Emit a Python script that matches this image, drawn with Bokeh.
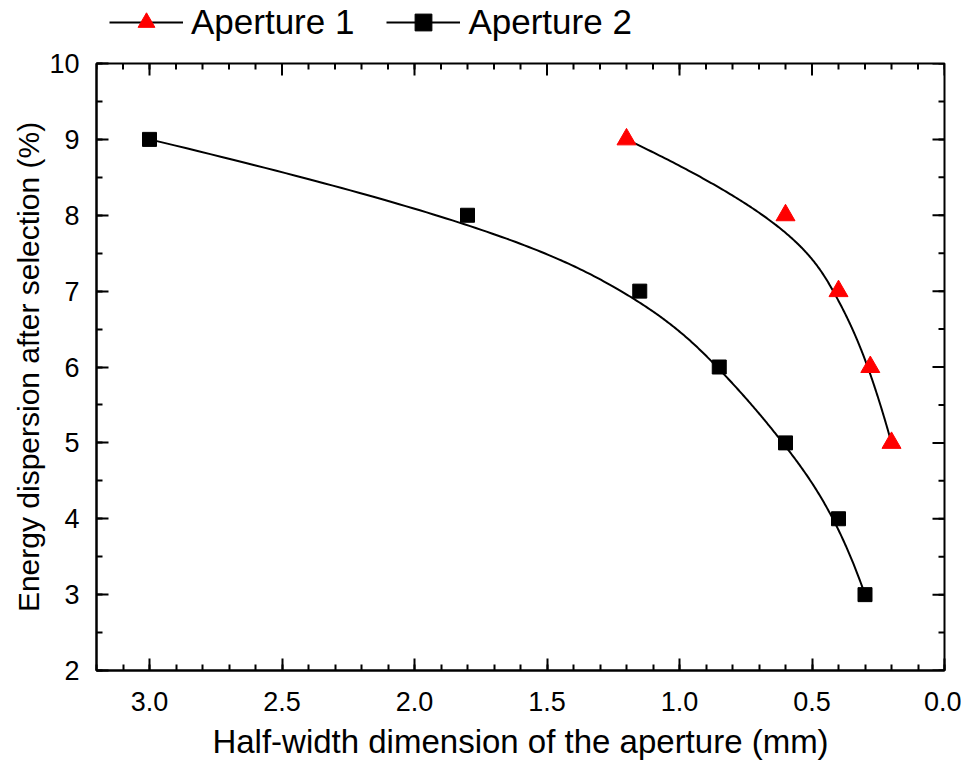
import numpy as np
from bokeh.plotting import figure
from bokeh.layouts import column
from bokeh.models import Range1d, FixedTicker, Legend, LegendItem, PrintfTickFormatter
from bokeh.embed import file_html
from bokeh.resources import INLINE

# ---- data ----
ap1_x = [1.2, 0.6, 0.4, 0.28, 0.2]
ap1_y = [9, 8, 7, 6, 5]
ap2_x = [3.0, 1.8, 1.15, 0.85, 0.6, 0.4, 0.3]
ap2_y = [9, 8, 7, 6, 5, 4, 3]
x_ticks = [0.0, 0.5, 1.0, 1.5, 2.0, 2.5, 3.0]
y_ticks = [2, 3, 4, 5, 6, 7, 8, 9, 10]
labels = ["Aperture 1", "Aperture 2"]

FONT = "Liberation Sans"
X0, X1 = 3.2, 0.0
Y0, Y1 = 2, 10
FW, FH = 848, 607
BL, BR = 96, 17


def bspline(px, py, num=300, k=3):
    """Clamped uniform B-spline drawn with the data points as control points."""
    P = np.column_stack([px, py]).astype(float)
    n = len(P)
    k = min(k, n - 1)
    inner = np.arange(1, n - k)
    knots = np.concatenate([np.zeros(k + 1), inner, np.full(k + 1, n - k)]).astype(float)
    t = np.linspace(0, n - k, num)
    t[-1] -= 1e-9

    def basis(i, d, tt):
        if d == 0:
            return np.where((knots[i] <= tt) & (tt < knots[i + 1]), 1.0, 0.0)
        den1 = knots[i + d] - knots[i]
        den2 = knots[i + d + 1] - knots[i + 1]
        t1 = (tt - knots[i]) / den1 * basis(i, d - 1, tt) if den1 > 0 else 0.0
        t2 = (knots[i + d + 1] - tt) / den2 * basis(i + 1, d - 1, tt) if den2 > 0 else 0.0
        return t1 + t2

    B = np.array([basis(i, k, t) for i in range(n)])
    c = B.T @ P
    return c[:, 0], c[:, 1]


# ---------------- main plot ----------------
p = figure(frame_width=FW, frame_height=FH,
           x_range=Range1d(X0, X1), y_range=Range1d(Y0, Y1),
           output_backend="svg", toolbar_location=None,
           min_border_left=BL, min_border_right=BR, min_border_top=19, min_border_bottom=86)

p.xgrid.visible = False
p.ygrid.visible = False
p.outline_line_color = "black"
p.outline_line_width = 2
p.background_fill_color = "white"
p.border_fill_color = "white"

x_minor = [round(0.1 * i, 1) for i in range(0, 33)]
y_minor = [2 + 0.5 * i for i in range(0, 17)]
xt = FixedTicker(ticks=x_ticks, minor_ticks=x_minor)
yt = FixedTicker(ticks=y_ticks, minor_ticks=y_minor)

for ax in (p.xaxis[0], p.yaxis[0]):
    ax.axis_line_width = 2
    ax.axis_line_color = "black"
    ax.major_tick_line_width = 2
    ax.minor_tick_line_width = 2
    ax.major_tick_in = 12
    ax.major_tick_out = 0
    ax.minor_tick_in = 6
    ax.minor_tick_out = 0
    ax.major_label_text_font = FONT
    ax.major_label_text_font_size = "27px"
    ax.major_label_text_color = "black"
    ax.axis_label_text_font = FONT
    ax.axis_label_text_font_style = "normal"
    ax.axis_label_text_color = "black"

p.xaxis.ticker = xt
p.yaxis.ticker = yt
p.xaxis.formatter = PrintfTickFormatter(format="%.1f")
p.xaxis.axis_label = "Half-width dimension of the aperture (mm)"
p.yaxis.axis_label = "Energy dispersion after selection (%)"
p.xaxis.axis_label_text_font_size = "33px"
p.yaxis.axis_label_text_font_size = "30px"
p.xaxis.major_label_standoff = 21
p.xaxis.axis_label_standoff = 9
p.yaxis.major_label_standoff = 17
p.yaxis.axis_label_standoff = 1

# inward ticks on the top and right edges (dashes centred on the frame edge; the
# outer half is clipped away by the frame)
p.scatter(x_ticks, [Y1] * len(x_ticks), marker="dash", angle=np.pi / 2, size=24,
          line_color="black", line_width=2)
p.scatter(x_minor, [Y1] * len(x_minor), marker="dash", angle=np.pi / 2, size=12,
          line_color="black", line_width=2)
p.scatter([X1] * len(y_ticks), y_ticks, marker="dash", size=24,
          line_color="black", line_width=2)
p.scatter([X1] * len(y_minor), y_minor, marker="dash", size=12,
          line_color="black", line_width=2)

# curves and markers
c1x, c1y = bspline(ap1_x, ap1_y)
c2x, c2y = bspline(ap2_x, ap2_y)
p.line(c1x, c1y, line_color="black", line_width=2)
p.line(c2x, c2y, line_color="black", line_width=2)
p.scatter(ap1_x, ap1_y, marker="triangle", size=19, fill_color="#FF0000", line_color="#FF0000")
p.scatter(ap2_x, ap2_y, marker="square", size=14, fill_color="black", line_color="black")

# ---------------- legend strip above the plot ----------------
# The legend renderers reuse the series data; the strip's ranges keep them out of view.
lg = figure(frame_width=FW, frame_height=44,
            x_range=Range1d(-100, -99), y_range=Range1d(-100, -99),
            output_backend="svg", toolbar_location=None,
            x_axis_type=None, y_axis_type=None,
            min_border_left=BL, min_border_right=BR, min_border_top=0, min_border_bottom=0)
lg.xgrid.visible = False
lg.ygrid.visible = False
lg.outline_line_color = None
lg.background_fill_color = "white"
lg.border_fill_color = "white"

r1l = lg.line(ap1_x, ap1_y, line_color="black", line_width=2)
r1m = lg.scatter(ap1_x, ap1_y, marker="triangle", fill_color="#FF0000", line_color="#FF0000")
r2l = lg.line(ap2_x, ap2_y, line_color="black", line_width=2)
r2m = lg.scatter(ap2_x, ap2_y, marker="square", fill_color="black", line_color="black")

# location is the legend's bottom-left corner, relative to the strip frame's bottom-left
legend = Legend(items=[LegendItem(label=labels[0], renderers=[r1l, r1m]),
                       LegendItem(label=labels[1], renderers=[r2l, r2m])],
                orientation="horizontal", location=(13, 1),
                border_line_color=None, background_fill_alpha=0,
                padding=0, margin=0, spacing=32,
                glyph_width=74, glyph_height=42, label_standoff=8,
                label_text_font=FONT, label_text_font_size="35px",
                label_text_color="black")
lg.add_layout(legend)

layout = column(lg, p, spacing=0)
open("out.html", "w").write(file_html(layout, INLINE))
